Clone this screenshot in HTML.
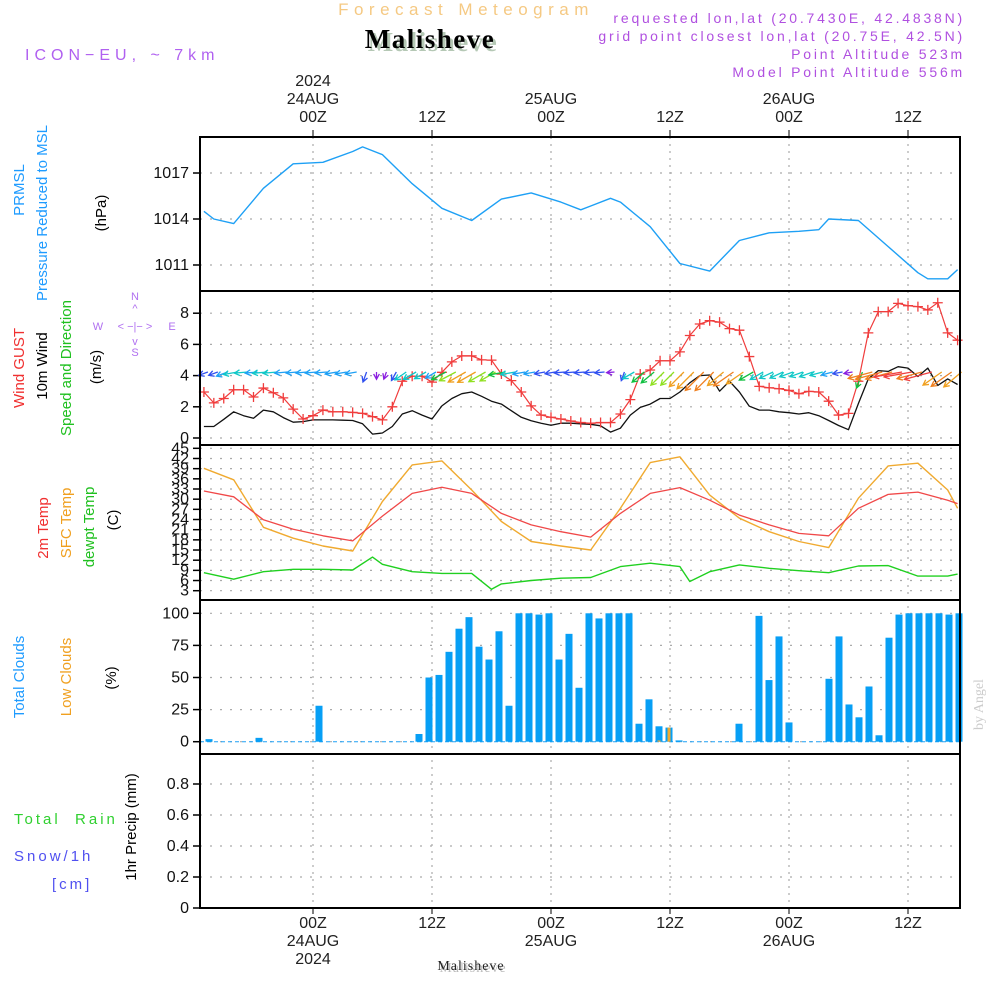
<!DOCTYPE html>
<html><head><meta charset="utf-8"><style>
html,body{margin:0;padding:0;background:#fff;}
svg{display:block;font-family:"Liberation Sans",sans-serif;}
</style></head><body>
<svg id="chart" width="1000" height="1000" viewBox="0 0 1000 1000">
<g id="static">
<text x="466" y="15" font-size="17" fill="#f5c983" text-anchor="middle" letter-spacing="5.5">Forecast Meteogram</text>
<text x="433" y="51" font-size="27" font-weight="bold" font-family="Liberation Serif,serif" fill="#b5c8b5" text-anchor="middle" letter-spacing="1.5">Malisheve</text>
<text x="430" y="48" font-size="27" font-weight="bold" font-family="Liberation Serif,serif" fill="#000" text-anchor="middle" letter-spacing="1.5">Malisheve</text>
<text x="25" y="60" font-size="16" fill="#b060f0" letter-spacing="5">ICON−EU, ~ 7km</text>
<g font-size="14" fill="#b050e0" text-anchor="end" letter-spacing="2.8">
<text x="965" y="23">requested lon,lat (20.7430E, 42.4838N)</text>
<text x="965" y="41">grid point closest lon,lat (20.75E, 42.5N)</text>
<text x="965" y="59">Point Altitude 523m</text>
<text x="965" y="77">Model Point Altitude 556m</text>
</g>
<text transform="translate(983,730) rotate(-90)" font-size="14" fill="#ccc" font-family="Liberation Serif,serif">by Angel</text>
<g font-size="15">
<text transform="translate(24,190) rotate(-90)" fill="#1e9bff" text-anchor="middle">PRMSL</text>
<text transform="translate(47,213) rotate(-90)" fill="#1e9bff" text-anchor="middle">Pressure Reduced to MSL</text>
<text transform="translate(106,213) rotate(-90)" fill="#000" text-anchor="middle">(hPa)</text>
<text transform="translate(24,368) rotate(-90)" fill="#f03030" text-anchor="middle">Wind GUST</text>
<text transform="translate(47,366) rotate(-90)" fill="#000" text-anchor="middle">10m Wind</text>
<text transform="translate(71,368) rotate(-90)" fill="#20c020" text-anchor="middle">Speed and Direction</text>
<text transform="translate(101,367) rotate(-90)" fill="#000" text-anchor="middle">(m/s)</text>
<text transform="translate(48,528) rotate(-90)" fill="#f03030" text-anchor="middle">2m Temp</text>
<text transform="translate(71,523) rotate(-90)" fill="#f0a020" text-anchor="middle">SFC Temp</text>
<text transform="translate(94,527) rotate(-90)" fill="#20c020" text-anchor="middle">dewpt Temp</text>
<text transform="translate(118,520) rotate(-90)" fill="#000" text-anchor="middle">(C)</text>
<text transform="translate(24,677) rotate(-90)" fill="#1e9bff" text-anchor="middle">Total Clouds</text>
<text transform="translate(71,677) rotate(-90)" fill="#f0a020" text-anchor="middle">Low Clouds</text>
<text transform="translate(116,678) rotate(-90)" fill="#000" text-anchor="middle">(%)</text>
<text transform="translate(136,827) rotate(-90)" fill="#000" text-anchor="middle">1hr Precip (mm)</text>
</g>
<g font-size="15" letter-spacing="3">
<text x="14" y="824" fill="#30d030" xml:space="preserve">Total  Rain</text>
<text x="14" y="861" fill="#5050f0">Snow/1h</text>
<text x="52" y="889" fill="#5050f0">[cm]</text>
</g>
<g font-size="11" fill="#b070f0" stroke="none">
<text x="135" y="300" text-anchor="middle">N</text>
<text x="135" y="312" text-anchor="middle">^</text>
<text x="98" y="330" text-anchor="middle">W</text>
<text x="135" y="330" text-anchor="middle">&lt; −|− &gt;</text>
<text x="172" y="330" text-anchor="middle">E</text>
<text x="135" y="345" text-anchor="middle">v</text>
<text x="135" y="356" text-anchor="middle">S</text>
</g>
<text x="473" y="972" font-size="14" font-family="Liberation Serif,serif" fill="#bbb" text-anchor="middle" letter-spacing="1">Malisheve</text>
<text x="471" y="970" font-size="14" font-family="Liberation Serif,serif" fill="#222" text-anchor="middle" letter-spacing="1">Malisheve</text>
</g>
<g id="grid"></g>
<g id="marks"></g>
<g id="frames"></g>
</svg>
<script>
// ---- data ----
const tickHours = [0, 12, 24, 36, 48, 60];
const tickTimeLabels = ["00Z", "12Z", "00Z", "12Z", "00Z", "12Z"];
const tickDateLabels = ["24AUG", "", "25AUG", "", "26AUG", ""];
const tickYearLabels = ["2024", "", "", "", "", ""];

const presHours = [-11,-10,-8,-5,-2,1,4,5,7,10,13,16,19,22,25,27,28,30,31,34,37,40,43,46,49,51,52,55,58,61,62,64,65];
const presValues = [1014.5,1014.0,1013.7,1016.0,1017.6,1017.7,1018.4,1018.7,1018.2,1016.3,1014.7,1013.9,1015.3,1015.7,1015.1,1014.6,1014.85,1015.35,1015.1,1013.5,1011.1,1010.6,1012.6,1013.1,1013.2,1013.3,1014.0,1013.9,1012.2,1010.5,1010.1,1010.1,1010.7];
const presTicks = [1011, 1014, 1017];

const windStartHour = -11;
const windSpeed = [0.74,0.74,1.2,1.68,1.43,1.26,1.79,1.68,1.31,1.01,1.05,1.16,1.16,1.16,1.14,1.12,0.91,0.25,0.32,0.74,1.54,1.75,1.47,1.22,2.06,2.53,2.84,2.95,2.67,2.36,2.17,1.75,1.33,1.1,0.95,0.82,0.95,0.95,0.91,0.88,0.78,0.38,0.63,1.47,1.96,2.17,2.53,2.53,2.95,3.54,4.0,4.04,3.0,3.64,2.95,2.04,1.79,1.79,1.68,1.62,1.54,1.62,1.43,1.12,0.8,0.53,2.21,3.79,4.32,4.27,4.57,4.48,3.94,4.48,3.37,3.79,3.43];
const windGust = [2.95,2.25,2.53,3.09,3.09,2.63,3.2,2.9,2.57,1.85,1.22,1.43,1.79,1.68,1.68,1.64,1.58,1.37,1.16,2.0,3.64,3.96,3.96,3.58,4.21,4.88,5.26,5.26,5.01,4.99,4.1,3.68,2.95,2.06,1.47,1.33,1.22,1.09,0.99,0.95,0.99,0.99,1.54,2.46,4.1,4.36,4.95,4.95,5.52,6.57,7.31,7.52,7.43,7.01,6.91,5.22,3.31,3.22,3.16,3.05,2.84,2.99,2.95,2.36,1.47,1.58,3.64,6.74,8.1,8.1,8.63,8.48,8.42,8.21,8.67,6.74,6.27];
const windDir = [70,70,70,80,85,85,85,85,85,85,85,85,85,80,80,80,20,0,20,30,55,60,60,60,62,62,60,60,60,60,80,80,80,80,80,80,85,85,85,85,85,85,20,60,50,50,45,45,45,45,45,45,50,55,55,60,60,65,65,70,70,70,75,75,80,80,20,75,75,75,80,80,75,75,55,55,50];
const windTicks = [0, 2, 4, 6, 8];

const tempHours = [-11,-8,-5,-2,1,4,7,10,13,16,19,22,25,28,31,34,37,40,43,46,49,52,55,58,61,64,65];
const temp2m = [32.4,30.7,23.9,21.1,19.2,17.7,25.0,31.7,33.5,31.7,25.8,22.4,20.4,18.8,25.8,31.7,33.4,29.7,25.3,22.4,19.9,19.2,27.3,31.4,32.1,29.7,28.7];
const tempSfc = [39.1,35.7,21.7,18.5,16.2,14.7,29.3,40.1,41.3,32.7,23.4,17.5,16.2,15.0,27.3,40.8,42.5,31.2,24.4,20.4,17.5,15.7,30.3,39.8,40.6,32.7,27.3];
const dewHours = [-11,-8,-5,-2,1,4,6,7,10,13,16,18,19,22,25,28,31,34,37,38,40,43,46,49,52,55,58,61,64,65];
const dewValues = [8.3,6.4,8.6,9.3,9.3,9.1,12.9,10.8,8.6,8.1,8.1,3.4,5.0,6.0,6.7,6.9,10.1,11.1,10.1,5.7,8.6,10.6,9.6,8.9,8.3,10.3,10.4,7.3,7.3,7.9];
const tempTicks = [3,6,9,12,15,18,21,24,27,30,33,36,39,42,45];

const cloudTotal = [2,0,0,0,0,3,0,0,0,0,0,28,0,0,0,0,0,0,0,0,0,6,50,52,70,88,97,74,64,86,28,100,100,99,100,64,84,42,100,96,100,100,100,14,33,12,11,1,0,0,0,0,0,14,0,98,48,82,15,0,0,0,49,82,29,19,43,5,81,99,100,100,100,100,99,100];
const cloudLow = [0,0,0,0,0,0,0,0,0,0,0,0,0,0,0,0,0,0,0,0,0,0,0,0,0,0,0,0,0,0,0,0,0,0,0,0,0,0,0,0,0,0,0,0,0,1,11,0,0,0,0,0,0,0,0,0,0,0,0,0,0,0,0,0,0,0,0,0,0,0,0,0,0,0,0,0];
const cloudTicks = [0,25,50,75,100];

const precipTicks = [0,0.2,0.4,0.6,0.8];
const precipTickLabels = ["0","0.2","0.4","0.6","0.8"];

// ---- layout & scales ----
const NS = "http://www.w3.org/2000/svg";
const L = 200, R = 960;
const panels = [
  {top:137, bot:291},{top:291, bot:445},{top:445, bot:600},{top:600, bot:754},{top:754, bot:908}
];
function x(t){ return 313 + t * 119 / 12; }
function xBar(i){ return 209 + i * 10; }
function yPres(p){ return 219 - (p - 1014) * 15.33; }
function yWind(w){ return 438 - w * 15.6; }
function yTemp(T){ return 590.7 - (T - 3) * 3.39; }
function yCloud(c){ return 741.7 - c * 1.284; }
function yPrecip(v){ return 908 - v * 155; }

function mk(tag, attrs, parent){
  const e = document.createElementNS(NS, tag);
  for (const k in attrs) e.setAttribute(k, attrs[k]);
  parent.appendChild(e);
  return e;
}
const grid = document.getElementById('grid');
const marks = document.getElementById('marks');
const frames = document.getElementById('frames');

tickHours.forEach((h, i) => {
  const gl = mk('line', {x1:x(h), x2:x(h), y1:137, y2:908, stroke:'#aaa', 'stroke-width':1.2, 'stroke-dasharray':'2,5'}, grid);
  
  
  [[122, tickTimeLabels[i]], [104, tickDateLabels[i]], [86, tickYearLabels[i]]].forEach(([yy, s]) => {
    if (!s) return;
    const t = mk('text', {x:x(h), y:yy, 'font-size':16, 'text-anchor':'middle', fill:'#222'}, grid);
    t.textContent = s;
    
    
  });
  [[928, tickTimeLabels[i]], [946, tickDateLabels[i]], [964, tickYearLabels[i]]].forEach(([yy, s]) => {
    if (!s) return;
    const t = mk('text', {x:x(h), y:yy, 'font-size':16, 'text-anchor':'middle', fill:'#222'}, grid);
    t.textContent = s;
    
    
  });
  mk('line', {x1:x(h), x2:x(h), y1:130, y2:137, stroke:'#000'}, grid);
  mk('line', {x1:x(h), x2:x(h), y1:908, y2:914, stroke:'#000'}, grid);
});

function yAxis(ticks, labels, yf, name){
  ticks.forEach((v, i) => {
    const y = yf(v);
    const gl = mk('line', {x1:L, x2:R, y1:y, y2:y, stroke:'#aaa', 'stroke-width':1.2, 'stroke-dasharray':'2,8'}, grid);
    
    
    mk('line', {x1:L-7, x2:L, y1:y, y2:y, stroke:'#000', 'stroke-width':1.5}, grid);
    const t = mk('text', {x:L-11, y:y+5, 'font-size':16, 'text-anchor':'end', fill:'#111'}, grid);
    t.textContent = labels ? labels[i] : String(v);
    
    
  });
}
yAxis(presTicks, null, yPres, 'pressure');
yAxis(windTicks, null, yWind, 'wind');
yAxis(tempTicks, null, yTemp, 'temp');
yAxis(cloudTicks, null, yCloud, 'cloud');
yAxis(precipTicks, precipTickLabels, yPrecip, 'precip');

function line(hours, vals, yf, color, name, w){
  const d = vals.map((v, i) => (i ? 'L' : 'M') + x(hours[i]).toFixed(1) + ',' + yf(v).toFixed(1)).join('');
  const p = mk('path', {d:d, fill:'none', stroke:color, 'stroke-width':w || 1.3, 'stroke-linejoin':'round'}, marks);
  
  
}
line(presHours, presValues, yPres, '#1ea0f5', 'pressure-line', 1.4);

const windHours = windSpeed.map((_, i) => windStartHour + i);
line(windHours, windSpeed, yWind, '#111', 'wind-10m-line', 1.3);
line(windHours, windGust, yWind, '#f03c3c', 'wind-gust-line', 1.2);
windGust.forEach((g, i) => {
  const cx = x(windHours[i]), cy = yWind(g);
  const m = mk('path', {d:`M${cx-5},${cy}h10M${cx},${cy-5}v10`, stroke:'#f03c3c', 'stroke-width':1.3}, marks);
  
  
});
function windColor(w){
  if (w < 0.6) return '#8a1ee0';
  if (w < 1.0) return '#3050f0';
  if (w < 1.4) return '#1ea0f5';
  if (w < 1.8) return '#10c8c8';
  if (w < 2.3) return '#10c040';
  if (w < 2.7) return '#90e020';
  if (w < 3.6) return '#f0a020';
  if (w < 4.4) return '#f08020';
  return '#f04040';
}
windSpeed.forEach((w, i) => {
  const ang = windDir[i] * Math.PI / 180;
  const len = 6 + w * 5;
  const x0 = x(windHours[i]) + 4, y0 = 372;
  const dx = -Math.sin(ang), dy = Math.cos(ang);
  const x1 = x0 + dx * len, y1 = y0 + dy * len;
  const hx = -dx * 6, hy = -dy * 6;
  const c = Math.cos(0.5), s = Math.sin(0.5);
  const a1x = x1 + hx * c - hy * s, a1y = y1 + hx * s + hy * c;
  const a2x = x1 + hx * c + hy * s, a2y = y1 - hx * s + hy * c;
  const a = mk('path', {d:`M${x0},${y0}L${x1},${y1}M${a1x},${a1y}L${x1},${y1}L${a2x},${a2y}`, stroke:windColor(w), 'stroke-width':1.3, fill:'none'}, marks);
  
  
});

line(tempHours, tempSfc, yTemp, '#f0aa30', 'sfc-temp-line', 1.4);
line(tempHours, temp2m, yTemp, '#f04848', 'temp-2m-line', 1.3);
line(dewHours, dewValues, yTemp, '#20d020', 'dewpoint-line', 1.4);

mk('line', {x1:L, x2:R, y1:yCloud(0), y2:yCloud(0), stroke:'#1ea0f5', 'stroke-width':1, 'stroke-dasharray':'4,3'}, marks);
cloudTotal.forEach((c, i) => {
  if (c <= 0) return;
  const b = mk('rect', {x:xBar(i)-3.5, y:yCloud(c), width:7, height:yCloud(0)-yCloud(c), fill:'#079ff5'}, marks);
  
  
});
cloudLow.forEach((c, i) => {
  if (c <= 0) return;
  const b = mk('rect', {x:xBar(i)-1.5, y:yCloud(c), width:3, height:yCloud(0)-yCloud(c), fill:'#f0aa30'}, marks);
  
  
});

panels.forEach((p, i) => {
  const r = mk('rect', {x:L, y:p.top, width:R-L, height:p.bot-p.top, fill:'none', stroke:'#000', 'stroke-width':2}, frames);
  
  
});
</script>
</body></html>
